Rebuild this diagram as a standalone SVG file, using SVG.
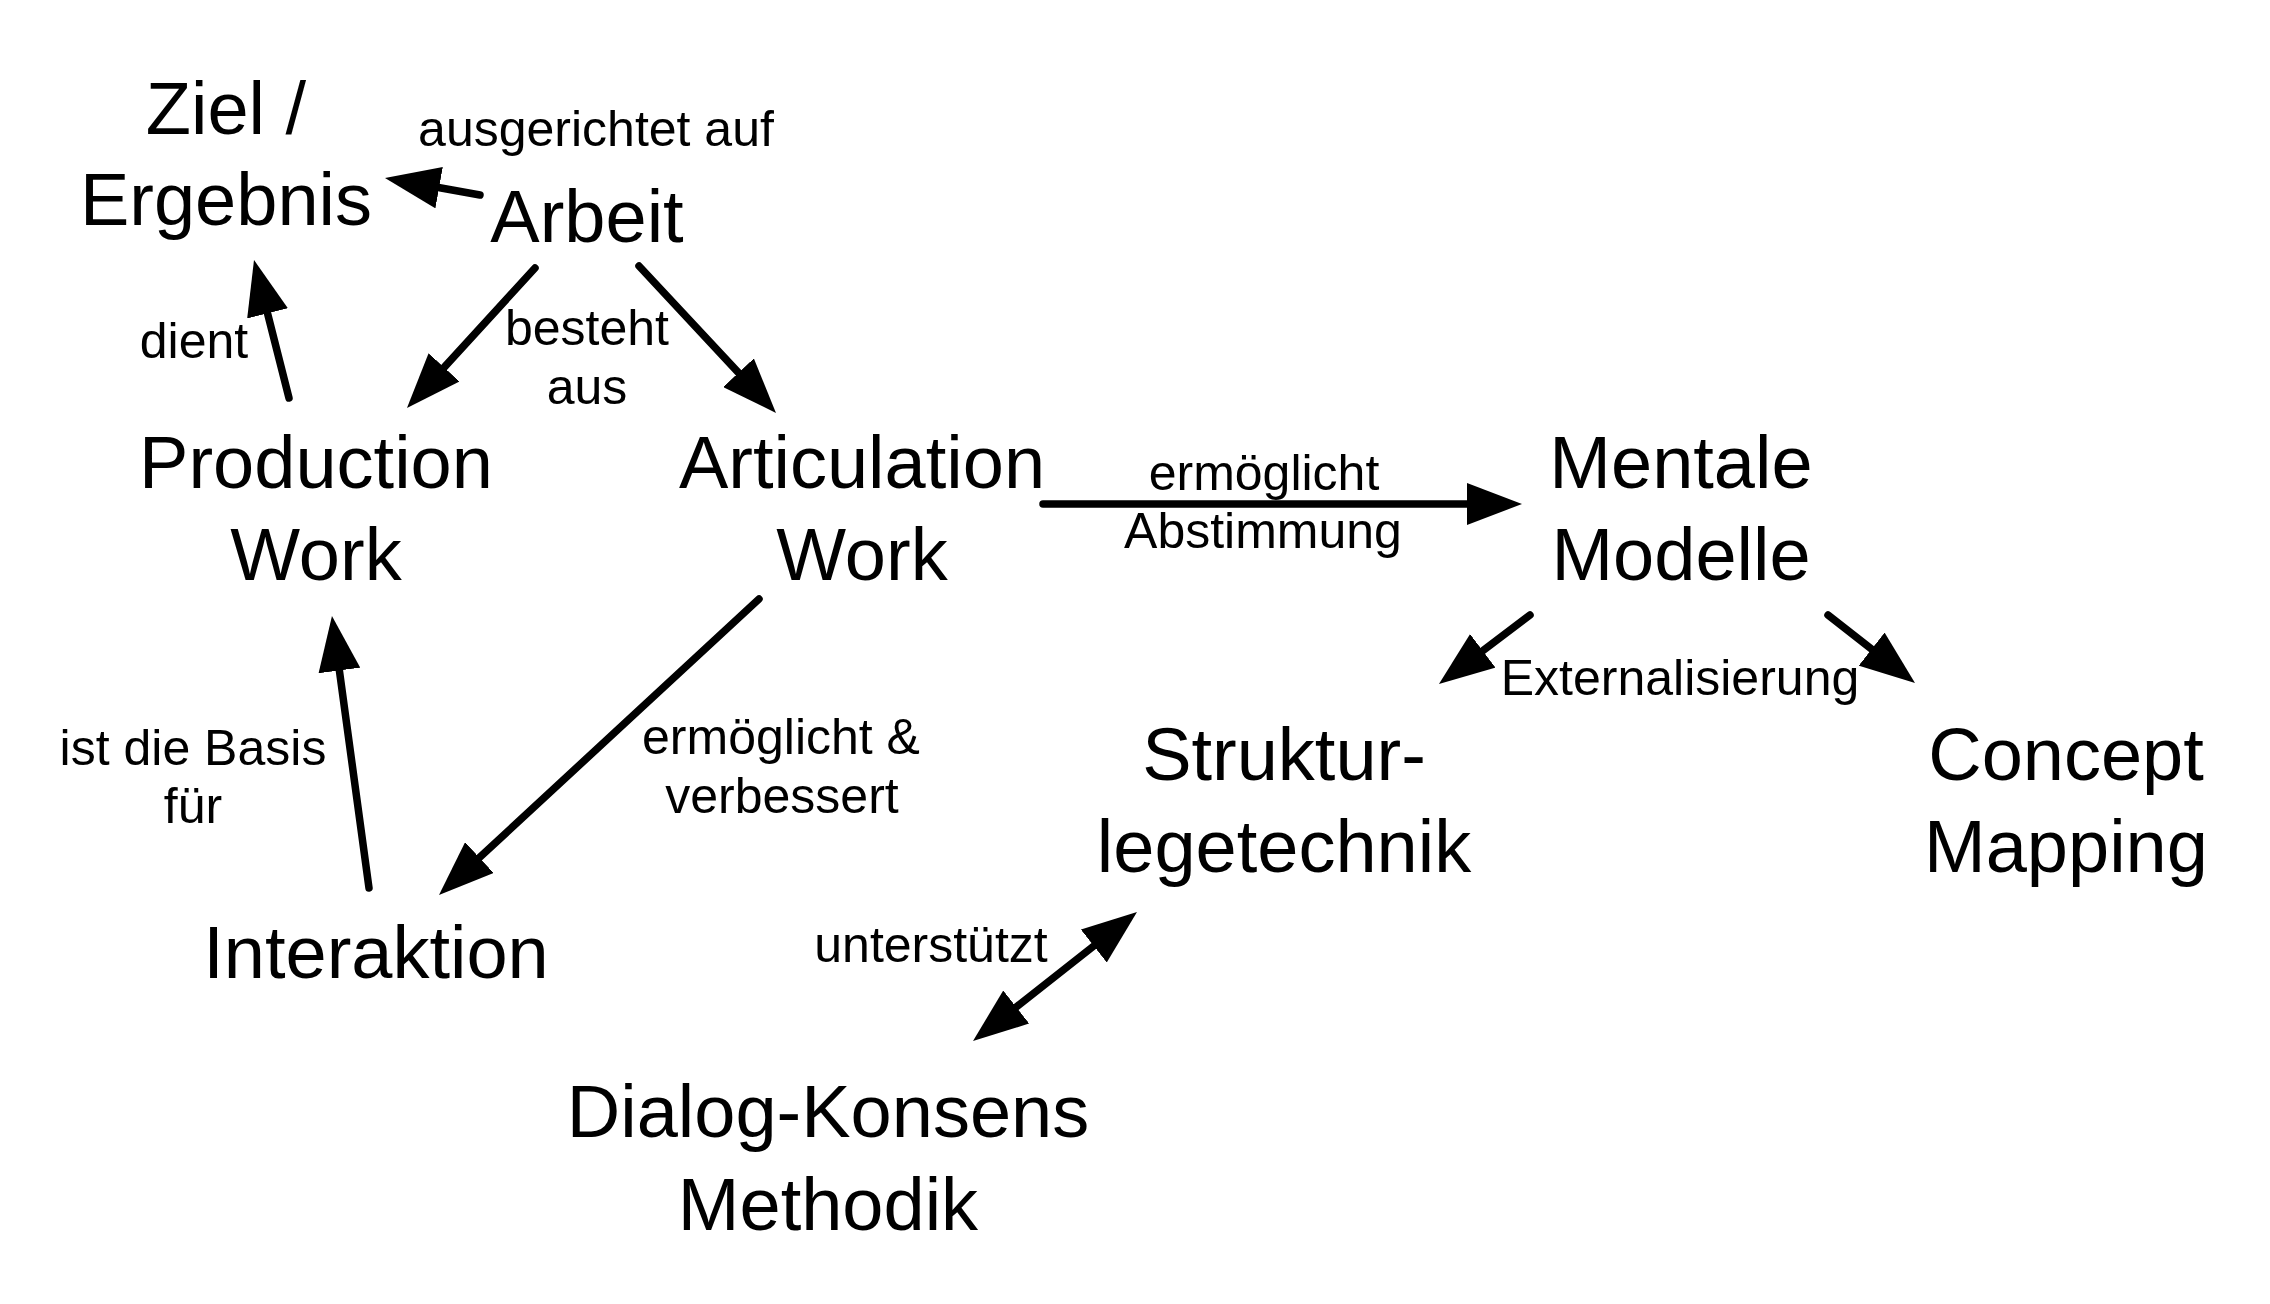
<svg xmlns="http://www.w3.org/2000/svg" width="2270" height="1304" viewBox="0 0 2270 1304">
<style>
text{font-family:"Liberation Sans",Arial,sans-serif;fill:#000;text-anchor:middle}
.n{font-size:74px}
.l{font-size:50px}
.c{stroke:#000;stroke-width:7.5;stroke-linecap:round;fill:none;marker-end:url(#ah)}
.d{marker-start:url(#ah2)}
</style>
<defs>
<marker id="ah" viewBox="0 -21 55 42" refX="5" refY="0" markerWidth="55" markerHeight="42" markerUnits="userSpaceOnUse" orient="auto"><path d="M0,-21 L55,0 L0,21 z" fill="#000"/></marker>
<marker id="ah2" viewBox="0 -21 55 42" refX="5" refY="0" markerWidth="55" markerHeight="42" markerUnits="userSpaceOnUse" orient="auto-start-reverse"><path d="M0,-21 L55,0 L0,21 z" fill="#000"/></marker>
</defs>
<rect width="2270" height="1304" fill="#fff"/>
<g id="connectors">
<line class="c" x1="480" y1="195" x2="434.2" y2="186.8"/>
<line class="c" x1="289" y1="398" x2="266.3" y2="308.5"/>
<line class="c" x1="535" y1="268" x2="440.7" y2="371.1"/>
<line class="c" x1="639" y1="266" x2="741.9" y2="376.4"/>
<line class="c" x1="1043" y1="504" x2="1472" y2="504"/>
<line class="c" x1="369" y1="888" x2="338.7" y2="665.5"/>
<line class="c" x1="759" y1="599" x2="475.7" y2="861"/>
<line class="c" x1="1530" y1="615" x2="1478.8" y2="653.8"/>
<line class="c" x1="1828" y1="615" x2="1875.6" y2="652.2"/>
<line class="c d" x1="1012.3" y1="1010.1" x2="1097.7" y2="942.9"/>
</g>
<g id="edge-labels">
<text class="l" x="596" y="146">ausgerichtet auf</text>
<text class="l" x="194" y="358">dient</text>
<text class="l" x="587" y="345">besteht</text>
<text class="l" x="587" y="404">aus</text>
<text class="l" x="1264" y="490">ermöglicht</text>
<text class="l" x="1263" y="548">Abstimmung</text>
<text class="l" x="193" y="765">ist die Basis</text>
<text class="l" x="193" y="823">für</text>
<text class="l" x="781" y="754">ermöglicht &amp;</text>
<text class="l" x="782" y="813">verbessert</text>
<text class="l" x="1680" y="695">Externalisierung</text>
<text class="l" x="931" y="962">unterstützt</text>
</g>
<g id="ziel"><text class="n" x="226" y="134">Ziel /</text><text class="n" x="226" y="225">Ergebnis</text></g>
<g id="arbeit"><text class="n" x="587" y="242">Arbeit</text></g>
<g id="production"><text class="n" x="316" y="488">Production</text><text class="n" x="316" y="580">Work</text></g>
<g id="articulation"><text class="n" x="862" y="488">Articulation</text><text class="n" x="862" y="580">Work</text></g>
<g id="mentale"><text class="n" x="1681" y="488">Mentale</text><text class="n" x="1681" y="580">Modelle</text></g>
<g id="interaktion"><text class="n" x="376" y="978">Interaktion</text></g>
<g id="struktur"><text class="n" x="1284" y="780">Struktur-</text><text class="n" x="1284" y="872">legetechnik</text></g>
<g id="concept"><text class="n" x="2066" y="780">Concept</text><text class="n" x="2066" y="872">Mapping</text></g>
<g id="dialog"><text class="n" x="828" y="1137">Dialog-Konsens</text><text class="n" x="828" y="1230">Methodik</text></g>
</svg>
